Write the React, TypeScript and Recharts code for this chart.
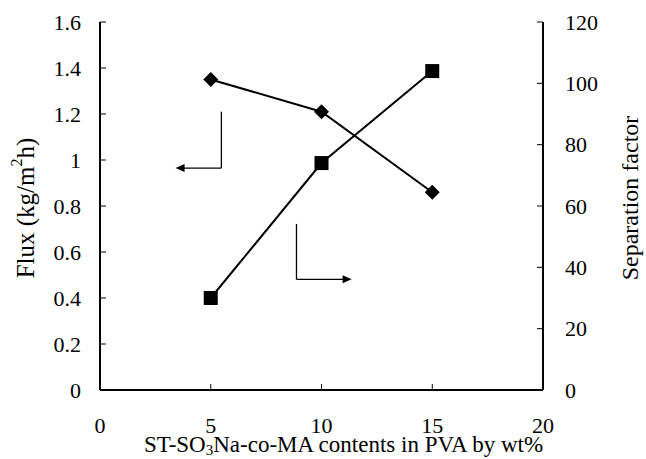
import React from 'react';
import {
  LineChart,
  Line,
  XAxis,
  YAxis,
  ReferenceLine,
  ReferenceDot,
} from 'recharts';

// data
const contents = [5, 10, 15];
const flux = [1.35, 1.21, 0.86];
const separation = [30, 74, 104];

const xTicks = [0, 5, 10, 15, 20];
const fluxTicks = [0, 0.2, 0.4, 0.6, 0.8, 1, 1.2, 1.4, 1.6];
const sepTicks = [0, 20, 40, 60, 80, 100, 120];

// annotation arrows (data units, flux axis)
const fluxArrow = { x: 5.48, yTop: 1.21, yBottom: 0.965, tipX: 3.41 };
const sepArrow = { x: 8.87, yTop: 0.722, yBottom: 0.481, tipX: 11.36 };

const data = contents.map((c, i) => ({ x: c, flux: flux[i], sep: separation[i] }));

const FONT = '"Liberation Serif", "Times New Roman", serif';
const tickStyle = { fontFamily: FONT, fontSize: 22, fill: '#000' };
const axisStyle = { stroke: '#000', strokeWidth: 2 };

const Diamond = (props: any) => {
  const { cx, cy } = props;
  if (cx == null || cy == null) return null;
  const r = 7.5;
  return <path d={`M${cx},${cy - r}L${cx + r},${cy}L${cx},${cy + r}L${cx - r},${cy}Z`} fill="#000" />;
};

const Square = (props: any) => {
  const { cx, cy } = props;
  if (cx == null || cy == null) return null;
  const h = 7;
  return <rect x={cx - h} y={cy - h} width={h * 2} height={h * 2} fill="#000" />;
};

const ArrowLeft = (props: any) => {
  const { cx, cy } = props;
  return <path d={`M${cx},${cy}L${cx + 9},${cy - 4}L${cx + 9},${cy + 4}Z`} fill="#000" />;
};

const ArrowRight = (props: any) => {
  const { cx, cy } = props;
  return <path d={`M${cx},${cy}L${cx - 9},${cy - 4}L${cx - 9},${cy + 4}Z`} fill="#000" />;
};

const FluxTitle = (props: any) => {
  const { viewBox } = props;
  const cx = viewBox.x + 25;
  const cy = viewBox.y + viewBox.height / 2 + 2;
  return (
    <text
      x={cx}
      y={cy}
      transform={`rotate(-90 ${cx} ${cy})`}
      textAnchor="middle"
      dominantBaseline="central"
      fontFamily={FONT}
      fontSize={25}
      fill="#000"
    >
      Flux (kg/m<tspan dy={-9} fontSize={16}>2</tspan>
      <tspan dy={9}>h)</tspan>
    </text>
  );
};

const SepTitle = (props: any) => {
  const { viewBox } = props;
  const cx = viewBox.x + 87;
  const cy = viewBox.y + viewBox.height / 2 - 8;
  return (
    <text
      x={cx}
      y={cy}
      transform={`rotate(-90 ${cx} ${cy})`}
      textAnchor="middle"
      dominantBaseline="central"
      fontFamily={FONT}
      fontSize={24}
      fill="#000"
    >
      Separation factor
    </text>
  );
};

const XTitle = (props: any) => {
  const { viewBox } = props;
  const cx = viewBox.x + viewBox.width / 2 + 22;
  const cy = viewBox.y + 62;
  return (
    <text x={cx} y={cy} textAnchor="middle" fontFamily={FONT} fontSize={23} fill="#000">
      ST-SO<tspan dy={3} fontSize={15}>3</tspan>
      <tspan dy={-3}>Na-co-MA contents in PVA by wt%</tspan>
    </text>
  );
};

export default function App() {
  return (
    <div style={{ position: 'absolute', left: 0, top: 0, background: '#fff' }}>
      <LineChart width={646} height={459} data={data} margin={{ top: 22, right: 0, bottom: 0, left: 0 }}>
        {/* negative tickSize puts the tick marks inside the frame */}
        <XAxis
          xAxisId="bottom"
          dataKey="x"
          type="number"
          domain={[0, 20]}
          ticks={xTicks}
          height={69}
          tickSize={-6}
          tickMargin={33}
          tickLine={{ stroke: '#000', strokeWidth: 1 }}
          tick={tickStyle}
          axisLine={axisStyle}
          label={<XTitle />}
        />
        <XAxis
          xAxisId="top"
          orientation="top"
          dataKey="x"
          type="number"
          domain={[0, 20]}
          height={0}
          tick={false}
          tickLine={false}
          axisLine={axisStyle}
        />
        <YAxis
          yAxisId="flux"
          type="number"
          domain={[0, 1.6]}
          ticks={fluxTicks}
          width={100}
          tickSize={-6}
          tickMargin={25}
          tickLine={{ stroke: '#000', strokeWidth: 1 }}
          tick={tickStyle}
          axisLine={axisStyle}
          label={<FluxTitle />}
        />
        <YAxis
          yAxisId="sep"
          orientation="right"
          type="number"
          domain={[0, 120]}
          ticks={sepTicks}
          width={103}
          tickSize={-6}
          tickMargin={28}
          tickLine={{ stroke: '#000', strokeWidth: 1 }}
          tick={tickStyle}
          axisLine={axisStyle}
          label={<SepTitle />}
        />
        <Line
          xAxisId="bottom"
          yAxisId="flux"
          dataKey="flux"
          stroke="#000"
          strokeWidth={2}
          dot={<Diamond />}
          activeDot={false}
          isAnimationActive={false}
        />
        <Line
          xAxisId="bottom"
          yAxisId="sep"
          dataKey="sep"
          stroke="#000"
          strokeWidth={2}
          dot={<Square />}
          activeDot={false}
          isAnimationActive={false}
        />
        <ReferenceLine
          xAxisId="bottom"
          yAxisId="flux"
          segment={[
            { x: fluxArrow.x, y: fluxArrow.yTop },
            { x: fluxArrow.x, y: fluxArrow.yBottom },
          ]}
          stroke="#000"
          strokeWidth={1.3}
        />
        <ReferenceLine
          xAxisId="bottom"
          yAxisId="flux"
          segment={[
            { x: fluxArrow.x, y: fluxArrow.yBottom },
            { x: fluxArrow.tipX + 0.3, y: fluxArrow.yBottom },
          ]}
          stroke="#000"
          strokeWidth={1.3}
        />
        <ReferenceDot
          xAxisId="bottom"
          yAxisId="flux"
          x={fluxArrow.tipX}
          y={fluxArrow.yBottom}
          shape={<ArrowLeft />}
        />
        <ReferenceLine
          xAxisId="bottom"
          yAxisId="flux"
          segment={[
            { x: sepArrow.x, y: sepArrow.yTop },
            { x: sepArrow.x, y: sepArrow.yBottom },
          ]}
          stroke="#000"
          strokeWidth={1.3}
        />
        <ReferenceLine
          xAxisId="bottom"
          yAxisId="flux"
          segment={[
            { x: sepArrow.x, y: sepArrow.yBottom },
            { x: sepArrow.tipX - 0.3, y: sepArrow.yBottom },
          ]}
          stroke="#000"
          strokeWidth={1.3}
        />
        <ReferenceDot
          xAxisId="bottom"
          yAxisId="flux"
          x={sepArrow.tipX}
          y={sepArrow.yBottom}
          shape={<ArrowRight />}
        />
      </LineChart>
    </div>
  );
}
